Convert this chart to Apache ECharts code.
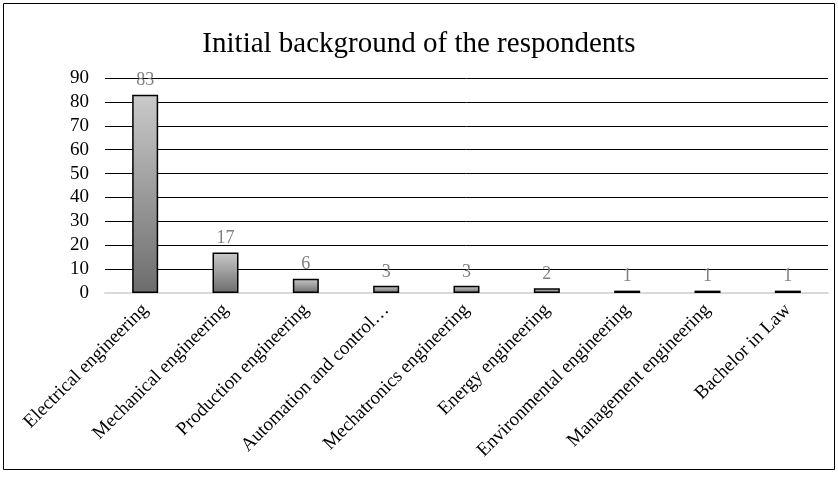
<!DOCTYPE html>
<html>
<head>
<meta charset="utf-8">
<script src="https://cdn.jsdelivr.net/npm/echarts@6/dist/echarts.min.js"></script>
<style>html,body{margin:0;padding:0;background:#fff;}#c{width:838px;height:477px;}</style>
</head>
<body>
<div id="c"></div>
<script>
var categories = ["Electrical engineering","Mechanical engineering","Production engineering","Automation and control…","Mechatronics engineering","Energy engineering","Environmental engineering","Management engineering","Bachelor in Law"];
var values = [83,17,6,3,3,2,1,1,1];
var yTicks = [0,10,20,30,40,50,60,70,80,90];

var chart = echarts.init(document.getElementById('c'));
chart.setOption({
  animation:false,
  backgroundColor:'#fff',
  title:{text:'Initial background of the respondents',left:'center',top:25,
    textStyle:{fontFamily:'Liberation Serif',fontSize:29,fontWeight:'normal',color:'#000'}},
  graphic:[{type:'rect',shape:{x:3.5,y:3.5,width:831,height:466},style:{fill:'none',stroke:'#000',lineWidth:1}}],
  grid:{left:105,right:10,top:78,bottom:184},
  xAxis:{type:'category',data:categories,
    axisLine:{lineStyle:{color:'#d9d9d9',width:2}},axisTick:{show:false},
    axisLabel:{rotate:45,interval:0,margin:14,fontFamily:'Liberation Serif',fontSize:19,color:'#000'}},
  yAxis:{type:'value',min:yTicks[0],max:yTicks[yTicks.length-1],interval:10,
    axisLine:{show:false},axisTick:{show:false},
    axisLabel:{margin:16,fontFamily:'Liberation Serif',fontSize:19,color:'#000'},
    splitLine:{lineStyle:{color:'#000',width:1}}},
  series:[{type:'bar',data:values,barWidth:26,
    itemStyle:{borderColor:'#000',borderWidth:1.5,
      color:new echarts.graphic.LinearGradient(0,0,0,1,[{offset:0,color:'#cacaca'},{offset:1,color:'#6c6c6c'}])},
    label:{show:true,position:'top',distance:5,fontFamily:'Liberation Serif',fontSize:18,color:'#7f7f7f'}}]
});
</script>
</body>
</html>
